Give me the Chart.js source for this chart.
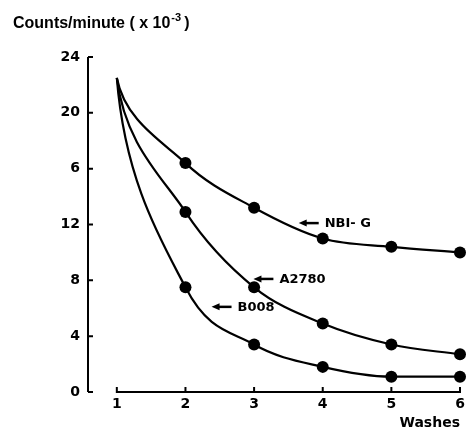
<!DOCTYPE html>
<html>
<head>
<meta charset="utf-8">
<script src="https://cdn.jsdelivr.net/npm/chart.js@4.4.1/dist/chart.umd.min.js"></script>
<style>
html, body { margin: 0; padding: 0; background: #fff; }
</style>
</head>
<body>
<canvas id="myChart" width="466" height="434"></canvas>
<script>
const washes = [1, 2, 3, 4, 5, 6];
const nbigCounts = [22.5, 16.4, 13.2, 11.0, 10.4, 10.0];
const a2780Counts = [22.5, 12.9, 7.5, 4.9, 3.4, 2.7];
const b008Counts = [22.5, 7.5, 3.4, 1.8, 1.1, 1.1];
const yTicks = [0, 4, 8, 12, 16, 20, 24];
const yTickLabels = ['0', '4', '8', '12', '6', '20', '24'];
const seriesNames = ['NBI- G', 'A2780', 'B008'];

// where each arrow tip sits, in data units
const labelTips = [[3.65, 12.1], [2.99, 8.1], [2.38, 6.1]];

const tickFont = { family: 'DejaVu Sans', size: 14, weight: 'bold' };

function toPoints(values) {
    return washes.map((w, i) => ({ x: w, y: values[i] }));
}

function makeDataset(label, values) {
    return {
        label: label,
        data: toPoints(values),
        borderColor: '#000',
        borderWidth: 2.2,
        backgroundColor: '#000',
        pointBackgroundColor: '#000',
        pointBorderWidth: 0,
        pointRadius: (c) => c.dataIndex === 0 ? 0 : 6,
        cubicInterpolationMode: 'monotone',
        clip: false
    };
}

// the first wash drops fast: bend the first segment so it sags like the drawing
const sagPlugin = {
    id: 'sag',
    beforeDatasetsDraw(chart) {
        chart.data.datasets.forEach((ds, i) => {
            const meta = chart.getDatasetMeta(i);
            meta.dataset.updateControlPoints(chart.chartArea, meta.indexAxis);
            const pts = meta.data;
            const p0 = pts[0], p1 = pts[1];
            const dx = p1.x - p0.x, dy = p1.y - p0.y;
            p0.cp2x = p0.x + dx * 0.12;
            p0.cp2y = p0.y + dy * 0.5;
        });
    }
};

const axesPlugin = {
    id: 'handAxes',
    beforeDatasetsDraw(chart) {
        const { ctx, scales: { x, y } } = chart;
        const left = chart.chartArea.left;
        const bottom = y.getPixelForValue(0);
        ctx.save();
        ctx.strokeStyle = '#000';
        ctx.lineWidth = 2;
        ctx.beginPath();
        ctx.moveTo(left, y.getPixelForValue(24));
        ctx.lineTo(left, bottom);
        yTicks.forEach(v => {
            const py = y.getPixelForValue(v);
            ctx.moveTo(left, py);
            ctx.lineTo(left + 5, py);
        });
        ctx.moveTo(x.getPixelForValue(1), bottom);
        ctx.lineTo(x.getPixelForValue(6), bottom);
        washes.forEach(v => {
            const px = x.getPixelForValue(v);
            ctx.moveTo(px, bottom + 1);
            ctx.lineTo(px, bottom - 5);
        });
        ctx.stroke();

        // title with superscript
        ctx.fillStyle = '#000';
        ctx.textBaseline = 'alphabetic';
        ctx.font = 'bold 16px "Liberation Sans"';
        let tx = 13;
        const part1 = 'Counts/minute ( x 10';
        ctx.fillText(part1, tx, 28);
        tx += ctx.measureText(part1).width + 1;
        ctx.font = 'bold 11px "Liberation Sans"';
        ctx.fillText('-3', tx, 21);
        tx += ctx.measureText('-3').width + 3;
        ctx.font = 'bold 16px "Liberation Sans"';
        ctx.fillText(')', tx, 28);
        ctx.restore();
    },
    afterDatasetsDraw(chart) {
        const { ctx, scales: { x, y } } = chart;
        ctx.save();
        ctx.strokeStyle = '#000';
        ctx.fillStyle = '#000';
        ctx.lineWidth = 2.5;
        ctx.font = 'bold 13px "DejaVu Sans"';
        ctx.textBaseline = 'middle';
        labelTips.forEach((tip, i) => {
            const px = x.getPixelForValue(tip[0]);
            const py = y.getPixelForValue(tip[1]);
            ctx.beginPath();
            ctx.moveTo(px + 6, py);
            ctx.lineTo(px + 20, py);
            ctx.stroke();
            ctx.beginPath();
            ctx.moveTo(px, py);
            ctx.lineTo(px + 8, py - 3.5);
            ctx.lineTo(px + 8, py + 3.5);
            ctx.closePath();
            ctx.fill();
            ctx.fillText(seriesNames[i], px + 26, py + 1);
        });
        ctx.restore();
    }
};

new Chart('myChart', {
    type: 'line',
    data: {
        datasets: [
            makeDataset(seriesNames[0], nbigCounts),
            makeDataset(seriesNames[1], a2780Counts),
            makeDataset(seriesNames[2], b008Counts)
        ]
    },
    options: {
        responsive: false,
        animation: false,
        layout: { padding: { top: 57, right: 0, left: 0, bottom: 0 } },
        plugins: {
            legend: { display: false },
            tooltip: { enabled: false }
        },
        scales: {
            x: {
                type: 'linear',
                min: 0.58,
                max: 6,
                afterBuildTicks: (s) => { s.ticks = washes.map(v => ({ value: v })); },
                afterFit: (s) => { s.height = 42; s.paddingRight = 1; s.paddingLeft = 0; },
                grid: { display: false, drawTicks: false },
                border: { display: false },
                ticks: { color: '#000', font: tickFont, padding: 4, callback: (v) => String(v) },
                title: {
                    display: true,
                    text: 'Washes',
                    align: 'end',
                    color: '#000',
                    font: tickFont,
                    padding: { top: 0, bottom: 2 }
                }
            },
            y: {
                min: 0,
                max: 24,
                afterBuildTicks: (s) => { s.ticks = yTicks.map(v => ({ value: v })); },
                afterFit: (s) => { s.width = 88; },
                grid: { display: false, drawTicks: false },
                border: { display: false },
                ticks: {
                    color: '#000',
                    font: tickFont,
                    padding: 8,
                    callback: (v) => yTickLabels[yTicks.indexOf(v)]
                }
            }
        }
    },
    plugins: [sagPlugin, axesPlugin]
});
</script>
</body>
</html>
